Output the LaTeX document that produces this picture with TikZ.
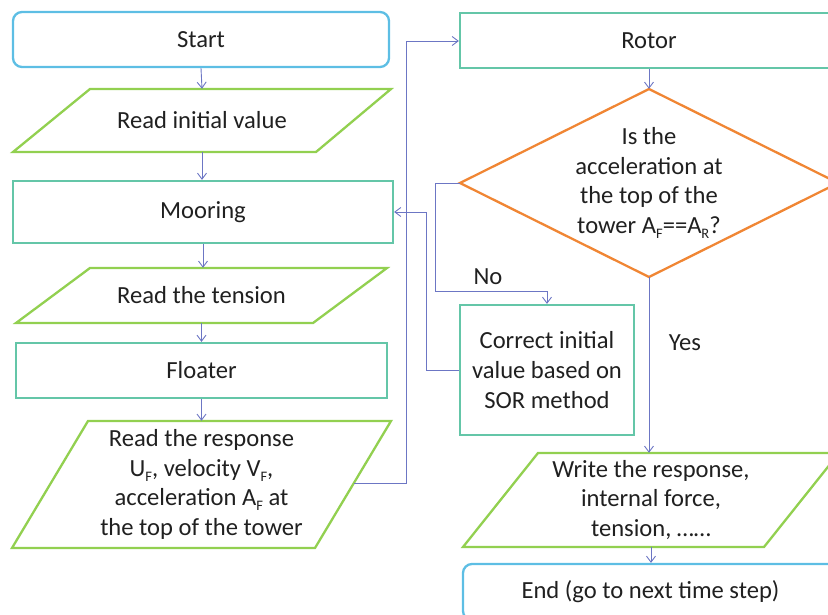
\documentclass[tikz,border=0pt]{standalone}
\usepackage{fontspec}
\setmainfont{Carlito}
\usetikzlibrary{arrows.meta}

\definecolor{termblue}{RGB}{93,190,228}
\definecolor{procteal}{RGB}{100,198,168}
\definecolor{iogreen}{RGB}{146,208,80}
\definecolor{decorange}{RGB}{240,134,52}
\definecolor{flowline}{RGB}{108,118,196}
\definecolor{txt}{RGB}{32,32,32}

% small lowered index letter, as in A_F
\newcommand\lsub[1]{\raisebox{-0.2em}{\fontsize{14.5}{14.5}\selectfont #1}}

\tikzset{
  label text/.style={text=txt, font=\fontsize{24.6}{29.6}\selectfont, align=center, inner sep=0pt},
  termbox/.style={label text, draw=termblue, line width=2.3pt, rounded corners=9pt},
  procbox/.style={label text, draw=procteal, line width=2.3pt},
  iofill/.style={draw=iogreen, line width=2.3pt, line join=miter},
  decfill/.style={draw=decorange, line width=2.3pt, line join=miter},
  slot/.style={label text},
  flow/.style={draw=flowline, line width=0.9pt, -{Straight Barb[length=6pt,width=9pt]}}
}

\begin{document}
\begin{tikzpicture}[x=1pt,y=-1pt]
\useasboundingbox (0,0) rectangle (828,615);
\clip (0,0) rectangle (828,615);

% ---- left column ----
\node[termbox, minimum width=376pt, minimum height=55pt] (start) at (201,39.5) {Start};

\draw[iofill] (90,89) -- (391,89) -- (316,152) -- (13,152) -- cycle;
\node[slot, minimum width=378pt, minimum height=63pt] (init) at (202,120.5) {Read initial value};

\node[procbox, minimum width=380pt, minimum height=62pt] (moor) at (203,212) {Mooring};

\draw[iofill] (90,268) -- (387,268) -- (313,323) -- (16,323) -- cycle;
\node[slot, minimum width=371pt, minimum height=55pt] (tens) at (201.5,295.5) {Read the tension};

\node[procbox, minimum width=371pt, minimum height=55pt] (float) at (201.5,370.5) {Floater};

\draw[iofill] (88,421) -- (391,421) -- (315,548) -- (12,548) -- cycle;
\node[slot, minimum width=379pt, minimum height=127pt] (resp) at (201.5,484.5)
  {Read the response\\
   U\lsub{F}, velocity V\lsub{F},\\
   acceleration A\lsub{F} at\\
   the top of the tower};
\coordinate (respout) at (354,483);

% ---- right column ----
\node[procbox, minimum width=378pt, minimum height=55pt] (rotor) at (649,40.5) {Rotor};

\draw[decfill] (649,89) -- (838,183) -- (649,277) -- (460,183) -- cycle;
\node[slot, minimum width=378pt, minimum height=188pt] (dec) at (649,183)
  {Is the\\ acceleration at\\ the top of the\\ tower A\lsub{F}==A\lsub{R}?};

\node[procbox, minimum width=174pt, minimum height=130pt] (corr) at (547,370)
  {Correct initial\\ value based on\\ SOR method};

\draw[iofill] (538,453) -- (839,453) -- (764,547) -- (463,547) -- cycle;
\node[slot, minimum width=376pt, minimum height=94pt] (write) at (651,500)
  {Write the response,\\ internal force,\\ tension, ……};

\node[termbox, minimum width=375pt, minimum height=56pt] (end) at (650.5,592) {End (go to next time step)};

% ---- connectors ----
\draw[flow] (start.south) -- (init.north);
\draw[flow] (init.south) -- (init.south |- moor.north);
\draw[flow] (moor.south) -- (moor.south |- tens.north);
\draw[flow] (tens.south) -- (tens.south |- float.north);
\draw[flow] (float.south) -- (float.south |- resp.north);

\draw[flow] (respout) -- (406,483) -- (406,41) -- (rotor.west |- 0,41);
\draw[flow] (rotor.south) -- (dec.north);

\draw[flow] (dec.west) -- (435,183) -- (435,291) -- (547,291) -- (corr.north);
\node[label text] (no) at (488,277) {No};

\draw[flow] (corr.west |- 0,370) -- (426,370) -- (426,212) -- (moor.east);

\draw[flow] (dec.south) -- (dec.south |- write.north);
\node[label text] (yes) at (685,343) {Yes};

\draw[flow] (write.south) -- (write.south |- end.north);
\end{tikzpicture}
\end{document}
